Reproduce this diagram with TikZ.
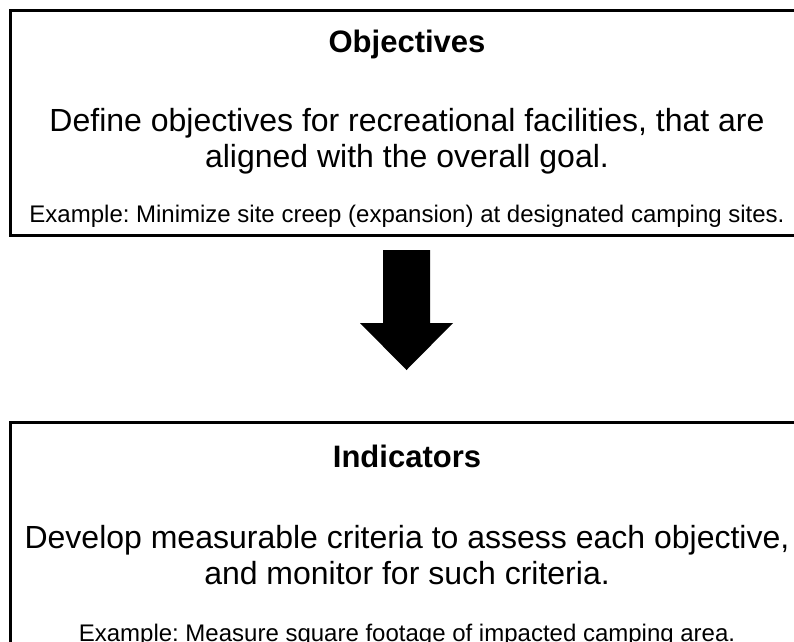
\documentclass[tikz,border=0pt]{standalone}
\usepackage{fontspec}
\setmainfont{Liberation Sans}
\frenchspacing
\tikzset{
  stagebox/.style={draw, line width=3pt, minimum width=794pt, inner sep=0pt},
  headtext/.style={anchor=base, font=\fontsize{31}{36}\selectfont\bfseries},
  bodytext/.style={anchor=base, align=center, font=\fontsize{32}{36}\selectfont},
  exampletext/.style={anchor=base, font=\fontsize{24}{28}\selectfont},
}
\begin{document}
\begin{tikzpicture}[x=1pt, y=-1pt]
  \useasboundingbox (0,0) rectangle (794,641);
  \node[stagebox, minimum height=225pt] (objbox) at (407,122.5) {};
  \node[headtext] (objhead) at (407,52) {Objectives};
  \node[bodytext] (objbody) at (407,167) {Define objectives for recreational facilities, that are\\aligned with the overall goal.};
  \node[exampletext] (objex) at (407,222) {Example: Minimize site creep (expansion) at designated camping sites.};

  \node[stagebox, minimum height=235pt] (indbox) at (407,539.5) {};
  \node[headtext] (indhead) at (407,467) {Indicators};
  \node[bodytext] (indbody) at (407,584) {Develop measurable criteria to assess each objective,\\and monitor for such criteria.};
  \node[exampletext] (index) at (407,641) {Example: Measure square footage of impacted camping area.};

  % arrow between the stages
  \fill (383,250) -- (430,250) -- (430,323) -- (453,323) -- (406.5,370)
    -- (360,323) -- (383,323) -- cycle;
\end{tikzpicture}
\end{document}
